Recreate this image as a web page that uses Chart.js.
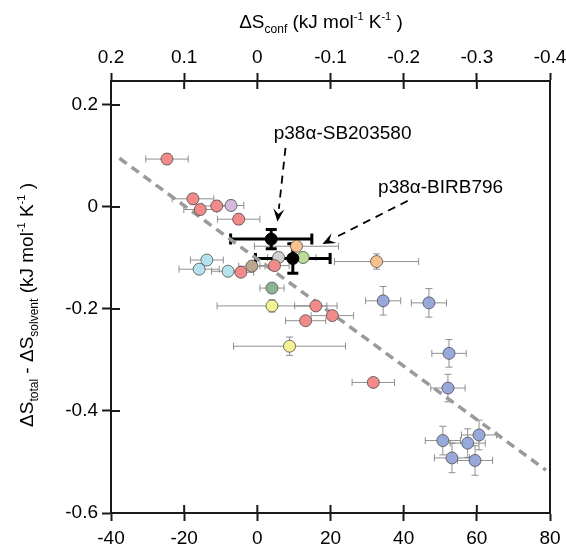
<!DOCTYPE html>
<html>
<head>
<meta charset="utf-8">
<script src="https://cdn.jsdelivr.net/npm/chart.js@4.4.1/dist/chart.umd.min.js"></script>
<style>
html,body{margin:0;padding:0;background:#fff;}
#wrap{width:566px;height:546px;position:relative;}
</style>
</head>
<body>
<div id="wrap"><canvas id="entropia"></canvas></div>
<script>
// punti colorati (gruppi di complessi)
var groups = ["red","red","red","red","purple","red","orange","grey","lgreen","cyan","cyan","cyan","red","brown","red","dgreen","orange","yellow","red","red","red","blue","blue","yellow","red","blue","blue","blue","blue","blue","blue","blue"];
var xVals = [-24.7,-17.6,-15.6,-11.1,-7.2,-5.1,10.7,5.8,12.5,-13.8,-15.9,-8.0,-4.5,-1.5,4.7,4.0,32.6,4.0,16.0,20.5,13.2,34.4,46.9,8.8,31.7,52.4,52.1,50.7,53.2,57.5,60.6,59.5];
var yVals = [0.094,0.016,-0.005,0.002,0.003,-0.024,-0.077,-0.099,-0.099,-0.104,-0.122,-0.126,-0.128,-0.116,-0.115,-0.159,-0.107,-0.194,-0.194,-0.213,-0.223,-0.184,-0.188,-0.273,-0.344,-0.287,-0.355,-0.458,-0.492,-0.463,-0.447,-0.497];
var xErr = [5.8,5.7,4.5,4,3.5,5.8,11.5,3,3.5,4.5,5.5,4.5,3.5,3.6,4,3.3,11.5,15,5.8,5.8,5.5,4.8,4.8,15.3,5.8,4.7,4.7,4.8,4.8,4.8,4.8,4.8];
var yErr = [0.01,0.01,0.01,0.01,0.01,0.01,0.008,0.01,0.01,0.008,0.008,0.008,0.008,0.008,0.008,0.008,0.015,0.012,0.008,0.008,0.008,0.028,0.028,0.018,0.008,0.027,0.027,0.028,0.029,0.028,0.029,0.029];

// p38a-SB203580, p38a-BIRB796
var refNames = ["p38\u03b1-SB203580", "p38\u03b1-BIRB796"];
var refX = [3.8, 9.7];
var refY = [-0.063, -0.101];
var refXErr = [11.1, 10.2];
var refYErr = [0.019, 0.029];

// retta di regressione
var fitX = [-37.7, 78.9];
var fitY = [0.0955, -0.516];

// assi
var xTicks = [-40, -20, 0, 20, 40, 60, 80];
var confTicks = [0.2, 0.1, 0, -0.1, -0.2, -0.3, -0.4];
var yTicks = [-0.6, -0.4, -0.2, 0, 0.2];

var palette = {
  red: "#f38a8a", purple: "#d4b8de", orange: "#f8c28c", grey: "#d0d0d0",
  lgreen: "#bddc98", cyan: "#b4e3ee", brown: "#bca68f", dgreen: "#86b696",
  yellow: "#f3f396", blue: "#99a8db"
};

var FONT = "'Liberation Sans', Arial, Helvetica, sans-serif";
var AXIS = "#1a1a1a";

function fmt(v) { return String(+(+v).toFixed(1)); }

function richText(ctx, parts, x, y) {
  var w = 0;
  parts.forEach(function (p) { ctx.font = p[1] + "px " + FONT; w += ctx.measureText(p[0]).width; });
  var cx = x - w / 2;
  ctx.textBaseline = "alphabetic";
  ctx.textAlign = "left";
  parts.forEach(function (p) {
    ctx.font = p[1] + "px " + FONT;
    ctx.fillText(p[0], cx, y + p[2]);
    cx += ctx.measureText(p[0]).width;
  });
}

function errorBars(ctx, xs, ys, X, Y, EX, EY, color, lw, cap) {
  ctx.save();
  ctx.strokeStyle = color;
  ctx.lineWidth = lw;
  for (var i = 0; i < X.length; i++) {
    var px = xs.getPixelForValue(X[i]), py = ys.getPixelForValue(Y[i]);
    var x0 = xs.getPixelForValue(X[i] - EX[i]), x1 = xs.getPixelForValue(X[i] + EX[i]);
    var y0 = ys.getPixelForValue(Y[i] - EY[i]), y1 = ys.getPixelForValue(Y[i] + EY[i]);
    ctx.beginPath();
    ctx.moveTo(x0, py); ctx.lineTo(x1, py);
    ctx.moveTo(x0, py - cap); ctx.lineTo(x0, py + cap);
    ctx.moveTo(x1, py - cap); ctx.lineTo(x1, py + cap);
    ctx.moveTo(px, y0); ctx.lineTo(px, y1);
    ctx.moveTo(px - cap, y0); ctx.lineTo(px + cap, y0);
    ctx.moveTo(px - cap, y1); ctx.lineTo(px + cap, y1);
    ctx.stroke();
  }
  ctx.restore();
}

function arrow(ctx, x0, y0, x1, y1) {
  var a = Math.atan2(y1 - y0, x1 - x0), L = 13, W = 5.5;
  var bx = x1 - L * Math.cos(a), by = y1 - L * Math.sin(a);
  ctx.save();
  ctx.strokeStyle = "#000";
  ctx.fillStyle = "#000";
  ctx.lineWidth = 1.8;
  ctx.setLineDash([8, 6]);
  ctx.beginPath(); ctx.moveTo(x0, y0); ctx.lineTo(bx, by); ctx.stroke();
  ctx.setLineDash([]);
  ctx.beginPath();
  ctx.moveTo(x1, y1);
  ctx.lineTo(bx + W * Math.sin(a), by - W * Math.cos(a));
  ctx.lineTo(x1 - 0.6 * L * Math.cos(a), y1 - 0.6 * L * Math.sin(a));
  ctx.lineTo(bx - W * Math.sin(a), by + W * Math.cos(a));
  ctx.closePath();
  ctx.fill();
  ctx.restore();
}

var extras = {
  id: "extras",
  beforeDatasetsDraw: function (chart) {
    var ctx = chart.ctx, xs = chart.scales.x, ys = chart.scales.y;
    errorBars(ctx, xs, ys, xVals, yVals, xErr, yErr, "rgba(125,125,125,0.85)", 1, 3.5);
    errorBars(ctx, xs, ys, refX, refY, refXErr, refYErr, "#000", 3, 5.5);
  },
  afterDraw: function (chart) {
    var ctx = chart.ctx, a = chart.chartArea;
    var xs = chart.scales.x, x2 = chart.scales.x2, ys = chart.scales.y;
    ctx.save();
    ctx.strokeStyle = AXIS;
    ctx.lineWidth = 2;
    ctx.beginPath();
    // tacche interne
    xTicks.forEach(function (v) { var p = xs.getPixelForValue(v); ctx.moveTo(p, a.bottom); ctx.lineTo(p, a.bottom - 8); });
    confTicks.forEach(function (v) { var p = x2.getPixelForValue(v); ctx.moveTo(p, a.top); ctx.lineTo(p, a.top + 8); });
    yTicks.forEach(function (v) { var p = ys.getPixelForValue(v); ctx.moveTo(a.left, p); ctx.lineTo(a.left + 9, p); });
    // bordo destro
    ctx.moveTo(a.right, a.top - 1); ctx.lineTo(a.right, a.bottom + 1);
    ctx.stroke();

    ctx.fillStyle = "#000";
    // titolo asse superiore
    richText(ctx, [["\u0394S", 19, 0], ["conf", 12, 5], [" (kJ mol", 19, 0], ["-1", 11, -8], [" K", 19, 0], ["-1", 11, -8], [" )", 19, 0]], 321, 28);
    // titolo asse y
    ctx.save();
    ctx.translate(33, 305);
    ctx.rotate(-Math.PI / 2);
    richText(ctx, [["\u0394S", 19, 0], ["total", 12, 5], [" - \u0394S", 19, 0], ["solvent", 12, 5], [" (kJ mol", 19, 0], ["-1", 11, -8], [" K", 19, 0], ["-1", 11, -8], [" )", 19, 0]], 0, 0);
    ctx.restore();

    // etichette e frecce
    richText(ctx, [[refNames[0], 19, 0]], xs.getPixelForValue(23.3), ys.getPixelForValue(0.133));
    richText(ctx, [[refNames[1], 19, 0]], xs.getPixelForValue(50.1), ys.getPixelForValue(0.0275));
    arrow(ctx, xs.getPixelForValue(7.7), ys.getPixelForValue(0.116), xs.getPixelForValue(5.5), ys.getPixelForValue(-0.029));
    arrow(ctx, xs.getPixelForValue(41.1), ys.getPixelForValue(0.012), xs.getPixelForValue(17.8), ys.getPixelForValue(-0.0725));
    ctx.restore();
  }
};

function axisOpts(pos, ticks, len, pad) {
  return {
    type: "linear",
    position: pos,
    grid: { drawOnChartArea: false, tickLength: len, tickWidth: 2, tickColor: AXIS },
    border: { display: true, color: AXIS, width: 2 },
    ticks: { color: "#000", font: { family: FONT, size: 19 }, padding: pad, maxRotation: 0, callback: fmt },
    afterBuildTicks: function (s) { s.ticks = ticks.map(function (v) { return { value: v }; }); }
  };
}

var xOpt = axisOpts("bottom", xTicks, 8, 6);
xOpt.min = -40; xOpt.max = 80;
xOpt.afterFit = function (s) { s.height = 33; s.paddingLeft = 0; s.paddingRight = 0; };

var x2Opt = axisOpts("top", confTicks, 8, 4);
x2Opt.min = -0.4; x2Opt.max = 0.2; x2Opt.reverse = true;
x2Opt.afterFit = function (s) { s.height = 81; s.paddingLeft = 0; s.paddingRight = 0; };

var yOpt = axisOpts("left", yTicks, 9, 4);
yOpt.min = -0.6; yOpt.max = 0.247;
yOpt.afterFit = function (s) { s.width = 111; s.paddingTop = 0; s.paddingBottom = 0; };

new Chart("entropia", {
  type: "scatter",
  data: {
    datasets: [{
      data: refX.map(function (v, i) { return { x: v, y: refY[i] }; }),
      backgroundColor: "#000",
      borderColor: "#000",
      pointRadius: 6,
      borderWidth: 1
    }, {
      data: xVals.map(function (v, i) { return { x: v, y: yVals[i] }; }),
      backgroundColor: groups.map(function (g) { return palette[g]; }),
      borderColor: "rgba(70,70,70,0.75)",
      borderWidth: 1,
      pointRadius: 6
    }, {
      type: "line",
      data: fitX.map(function (v, i) { return { x: v, y: fitY[i] }; }),
      borderColor: "#9a9a9a",
      borderWidth: 3.5,
      borderDash: [9, 6],
      pointRadius: 0,
      fill: false
    }]
  },
  options: {
    responsive: true,
    maintainAspectRatio: false,
    animation: false,
    layout: { padding: { left: 0, top: 0, right: 16, bottom: 0 } },
    plugins: { legend: { display: false }, tooltip: { enabled: false }, title: { display: false } },
    scales: { x: xOpt, x2: x2Opt, y: yOpt }
  },
  plugins: [extras]
});
</script>
</body>
</html>
